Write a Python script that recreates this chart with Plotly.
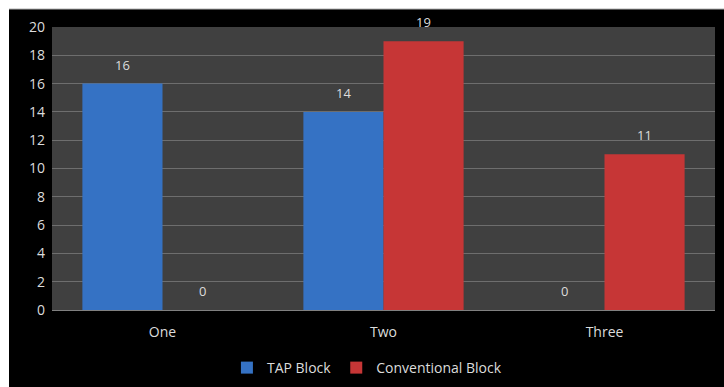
import plotly.graph_objects as go

categories = ["One", "Two", "Three"]
tap_block = [16, 14, 0]
conventional_block = [0, 19, 11]
series_names = ["TAP Block", "Conventional Block"]
y_ticks = list(range(0, 21, 2))

blue = "#3572c4"
red = "#c63636"
label_font = dict(family="Open Sans, Noto Sans, sans-serif", size=13, color="#dcdcdc")
axis_font = dict(family="Open Sans, Noto Sans, sans-serif", size=14, color="#dcdcdc")

fig = go.Figure()
fig.add_trace(go.Bar(name=series_names[0], x=categories, y=tap_block,
                     marker=dict(color=blue, line=dict(width=0))))
fig.add_trace(go.Bar(name=series_names[1], x=categories, y=conventional_block,
                     marker=dict(color=red, line=dict(width=0))))

annotations = []
for vals, shift in ((tap_block, -40), (conventional_block, 40)):
    for c, v in zip(categories, vals):
        annotations.append(dict(x=c, y=v, xref="x", yref="y", text=str(v),
                                showarrow=False, xshift=shift, yshift=19,
                                font=label_font))

fig.update_layout(
    width=724, height=387,
    margin=dict(l=52, r=9, t=27, b=77, autoexpand=False),
    paper_bgcolor="black",
    plot_bgcolor="#404040",
    barmode="group",
    bargap=0.275,
    bargroupgap=0,
    showlegend=True,
    legend=dict(orientation="h", x=0.475, xanchor="center", y=-0.205, yanchor="middle",
                font=axis_font, bgcolor="rgba(0,0,0,0)", itemwidth=30,
                traceorder="normal"),
    annotations=annotations,
    shapes=[
        dict(type="rect", xref="paper", yref="paper",
             x0=-52/663, x1=1 + 9/663, y0=1 + 18/283, y1=1 + 27/283,
             fillcolor="white", line=dict(width=0), layer="above"),
        dict(type="rect", xref="paper", yref="paper",
             x0=-52/663, x1=-43/663, y0=-77/283, y1=1 + 27/283,
             fillcolor="white", line=dict(width=0), layer="above"),
        dict(type="line", xref="paper", yref="paper",
             x0=-43/663, x1=1 + 9/663, y0=1 + 18/283, y1=1 + 18/283,
             line=dict(color="#b0b0b0", width=1), layer="above"),
    ],
    xaxis=dict(tickfont=axis_font, showgrid=False, ticks="", showline=True,
               linecolor="#808080", linewidth=1, ticklabelstandoff=9),
    yaxis=dict(range=[0, 20], tickvals=y_ticks, tickfont=axis_font,
               gridcolor="#6e6e6e", gridwidth=1, zeroline=False, ticks="",
               showline=False, ticklabelstandoff=6),
)

fig.write_html("out.html")
